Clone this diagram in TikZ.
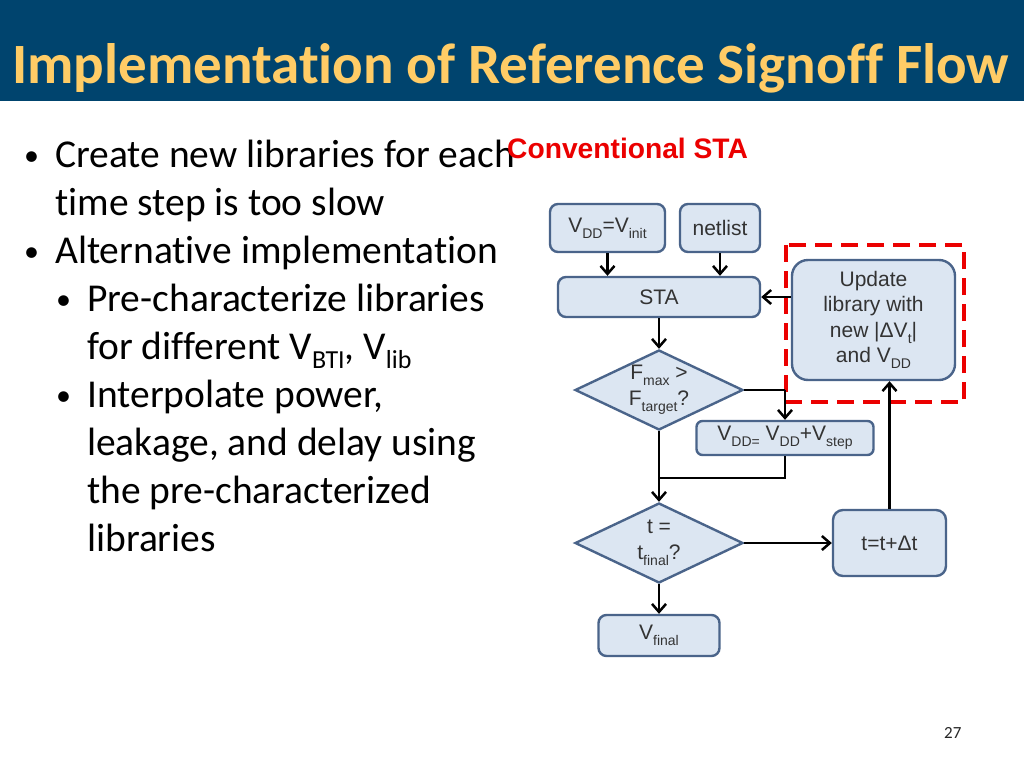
\documentclass[tikz,border=0pt]{standalone}
\usepackage{fontspec}
\setmainfont{Carlito}[Ligatures=NoCommon]
\newfontfamily\arialf{Liberation Sans}
\usetikzlibrary{shapes.geometric,arrows.meta}
\definecolor{titlebg}{RGB}{0,68,110}
\definecolor{titlefg}{RGB}{255,204,102}
\definecolor{boxfill}{RGB}{220,230,242}
\definecolor{boxline}{RGB}{74,100,138}
\definecolor{redbox}{RGB}{235,0,0}
\newcommand{\dsub}[1]{\raisebox{-0.28em}{\fontsize{14}{14}\selectfont #1}}
\newcommand{\bsub}[1]{\raisebox{-0.25em}{\fontsize{26}{26}\selectfont #1}}
\begin{document}
\begin{tikzpicture}[x=1pt,y=-1pt,
  bul/.style={anchor=base west, inner sep=0, font=\fontsize{39.5}{44}\selectfont},
  dot/.style={anchor=base west, inner sep=0, font=\fontsize{30}{30}\selectfont},
  fbox/.style={draw=boxline, fill=boxfill, line width=2.4pt, rounded corners=8pt, inner sep=0,
     align=center, font=\arialf\fontsize{21}{25.5}\selectfont, text=black!80},
  dia/.style={draw=boxline, fill=boxfill, line width=2.4pt, diamond, inner sep=0,
     minimum width=168pt, minimum height=80pt},
  dtext/.style={align=center, inner sep=0, font=\arialf\fontsize{21}{26}\selectfont, text=black!80},
  arr/.style={line width=2.5pt, -{Straight Barb[length=8pt,width=14pt,line width=2.5pt]}},
  ln/.style={line width=2.5pt}
]
\useasboundingbox (0,0) rectangle (1024,768);
\fill[white] (0,0) rectangle (1024,768);
\fill[titlebg] (0,0) rectangle (1024,101);
\node[anchor=base west, inner sep=0, text=titlefg, font=\bfseries\fontsize{57}{60}\selectfont] (title) at (12,83) {Implementation of Reference Signoff Flow};

% bullets
\node[dot] (d1) at (24,165) {\textbullet};
\node[bul] (l1) at (55,167) {Create new libraries for each};
\node[bul] (l2) at (55,215) {time step is too slow};
\node[dot] (d2) at (24,261) {\textbullet};
\node[bul] (l3) at (55,263) {Alternative implementation};
\node[dot] (d3) at (56,309) {\textbullet};
\node[bul] (l4) at (87,311) {Pre-characterize libraries};
\node[bul] (l5) at (87,359) {for different V\bsub{BTI}, V\bsub{lib}};
\node[dot] (d4) at (56,405) {\textbullet};
\node[bul] (l6) at (87,407) {Interpolate power,};
\node[bul] (l7) at (87,455) {leakage, and delay using};
\node[bul] (l8) at (87,503) {the pre-characterized};
\node[bul] (l9) at (87,551) {libraries};

\node[anchor=base west, inner sep=0, text=redbox, font=\arialf\bfseries\fontsize{28.2}{30}\selectfont] (conv) at (507,158) {Conventional STA};

% flowchart
\node[fbox, minimum width=115pt, minimum height=48pt] (vinit) at (607.5,228) {V\dsub{DD}=V\dsub{init}};
\node[fbox, minimum width=80pt, minimum height=48pt] (net) at (720,228) {netlist};
\node[fbox, minimum width=202pt, minimum height=40pt] (sta) at (659,297) {STA};
\node[fbox, minimum width=163pt, minimum height=120pt, rounded corners=16pt] (upd) at (873.5,320) {Update\\library with\\new |ΔV\dsub{t}|\\and V\dsub{DD}};
\node[dia] (fd) at (659,390) {};
\node[dtext] (fdt) at (fd) {F\dsub{max} >\\F\dsub{target}?};
\node[fbox, minimum width=177pt, minimum height=34pt, rounded corners=6pt] (step) at (785,438) {V\dsub{DD=} V\dsub{DD}+V\dsub{step}};
\node[dia] (td) at (659,543) {};
\node[dtext] (tdt) at (td) {t =\\t\dsub{final}?};
\node[fbox, minimum width=113pt, minimum height=66pt, rounded corners=10pt] (dt) at (889.5,543) {t=t+Δt};
\node[fbox, minimum width=121pt, minimum height=41pt] (vfin) at (659,635.5) {V\dsub{final}};

\draw[redbox, line width=4pt, dash pattern=on 17pt off 9pt] (786,245) rectangle (964,402);

\coordinate (j1) at (fd.east -| step.north);
\coordinate (j2) at (785,478);
\coordinate (j3) at (659,478);

\draw[arr] (vinit.south) -- (vinit.south |- sta.north);
\draw[arr] (net.south) -- (net.south |- sta.north);
\draw[arr] (upd.west |- sta.east) -- (sta.east);
\draw[arr] (sta.south) -- (fd.north);
\draw[ln] (fd.east) -- (j1);
\draw[arr] (j1) -- (step.north);
\draw[ln] (fd.south) -- (j3);
\draw[ln] (step.south) -- (j2) -- (j3);
\draw[arr] (j3) -- (td.north);
\draw[arr] (td.east) -- (dt.west);
\draw[arr] (dt.north) -- (dt.north |- upd.south);
\draw[arr] (td.south) -- (vfin.north);

\node[anchor=base west, inner sep=0, font=\fontsize{17}{20}\selectfont, text=black!85] (pg) at (944,738) {27};
\end{tikzpicture}
\end{document}
